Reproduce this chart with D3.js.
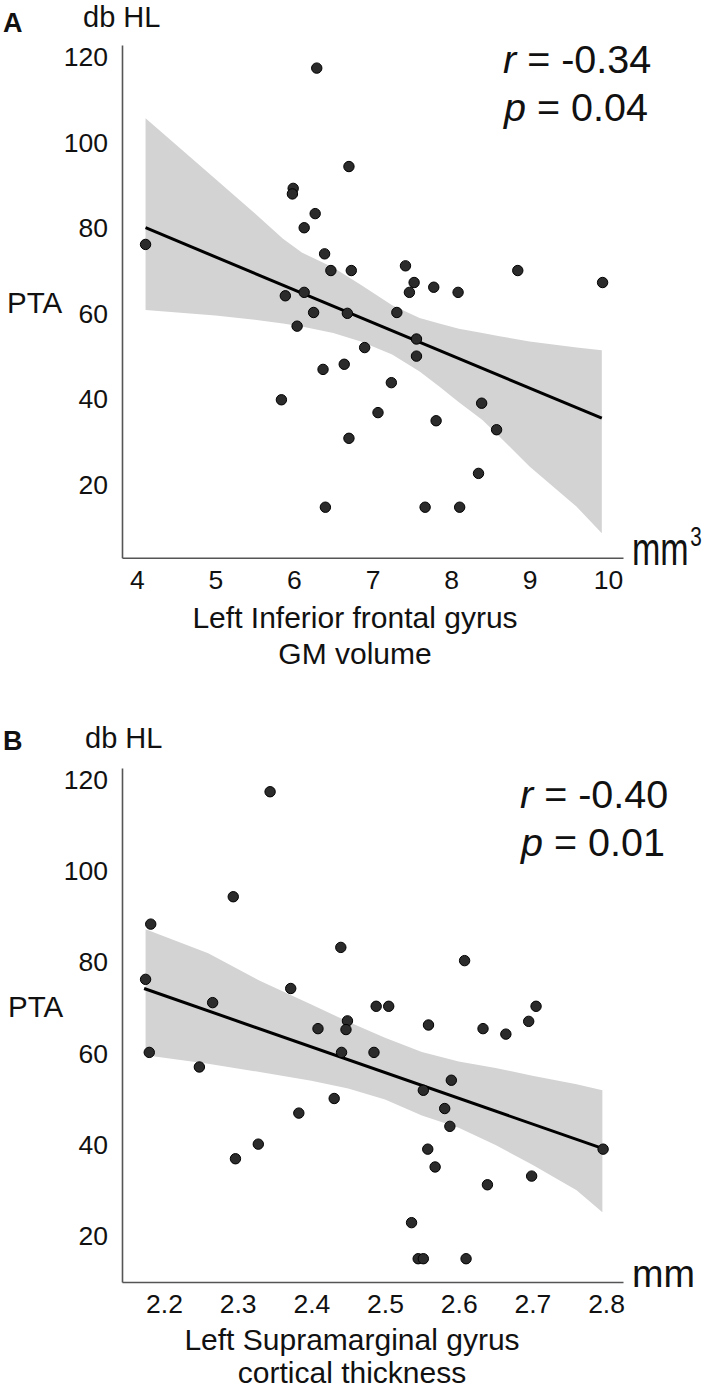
<!DOCTYPE html>
<html>
<head>
<meta charset="utf-8">
<script src="https://cdn.jsdelivr.net/npm/d3@7"></script>
<style>
  body { margin: 0; background: #fff; }
  svg text { font-family: "Liberation Sans", Arial, sans-serif; fill: #111; }
</style>
</head>
<body>
<svg id="chart" width="722" height="1390"></svg>
<script>
// panel A: left inferior frontal gyrus GM volume vs PTA
const gmVolume = [6.29, 6.70, 5.99, 5.98, 6.27, 6.13, 4.11, 6.39, 6.47, 6.73, 5.89, 6.13, 6.25, 6.68, 6.04,
  7.42, 7.53, 7.47, 7.78, 8.09, 8.85, 9.93, 7.31, 7.56, 6.90, 7.56, 6.37, 6.64, 7.24, 5.84, 7.07, 6.70,
  6.40, 8.39, 7.81, 8.58, 8.35, 7.67, 8.11];
const ptaA = [117.4, 94.4, 89.3, 88.0, 83.4, 80.1, 76.2, 74.0, 70.1, 70.1, 64.2, 65.0, 60.3, 60.1, 57.1,
  71.2, 67.3, 65.0, 66.2, 65.0, 70.1, 67.3, 60.3, 54.1, 52.1, 50.1, 47.0, 48.2, 43.9, 39.9, 36.9, 30.9,
  14.8, 39.1, 35.0, 32.9, 22.7, 14.8, 14.8];
const fitAx = [4.11, 9.92];
const fitAy = [80.1, 35.6];
const bandAx = [4.11, 5.0, 5.5, 5.86, 6.1, 6.5, 6.85, 7.25, 7.6, 7.85, 8.1, 8.4, 8.6, 9.0, 9.6, 9.92];
const bandAhi = [105.7, 91.5, 83.5, 77.5, 74.3, 70.8, 66.8, 62.0, 59.0, 57.7, 56.5, 55.5, 54.8, 53.5, 52.1, 51.5];
const bandAlo = [60.9, 59.6, 58.6, 57.7, 57.0, 55.5, 53.5, 50.5, 46.5, 43.0, 39.3, 35.2, 31.6, 24.3, 14.9, 8.7];
const ticksAx = [4, 5, 6, 7, 8, 9, 10];

// panel B: left supramarginal gyrus cortical thickness vs PTA
const thickness = [2.344, 2.294, 2.182, 2.440, 2.175, 2.372, 2.266, 2.449, 2.608, 2.488, 2.505, 2.705, 2.695,
  2.409, 2.447, 2.559, 2.633, 2.664, 2.180, 2.441, 2.485, 2.248, 2.590, 2.552, 2.431, 2.581, 2.383, 2.588,
  2.328, 2.297, 2.558, 2.796, 2.568, 2.699, 2.639, 2.536, 2.545, 2.552, 2.610];
const ptaB = [117.4, 94.4, 88.4, 83.3, 76.3, 74.3, 71.2, 67.2, 80.4, 70.4, 70.4, 70.4, 67.1,
  65.5, 65.3, 66.3, 65.5, 64.3, 60.3, 60.3, 60.3, 57.1, 54.2, 52.0, 50.2, 48.0, 47.0, 44.1,
  40.2, 37.0, 39.1, 39.1, 35.2, 33.2, 31.3, 23.0, 15.1, 15.1, 15.1];
const fitBx = [2.173, 2.796];
const fitBy = [74.3, 39.2];
const bandBx = [2.175, 2.26, 2.33, 2.40, 2.45, 2.50, 2.55, 2.60, 2.65, 2.70, 2.76, 2.795];
const bandBhi = [87.3, 82.0, 76.0, 70.8, 67.0, 63.5, 60.4, 58.3, 56.9, 55.2, 53.3, 52.0];
const bandBlo = [59.7, 57.8, 56.0, 54.1, 52.4, 50.0, 46.5, 43.8, 40.0, 35.7, 30.1, 25.3];
const ticksBx = [2.2, 2.3, 2.4, 2.5, 2.6, 2.7, 2.8];

const ticksY = [20, 40, 60, 80, 100, 120];

const svg = d3.select("#chart");

const panels = [
  {
    letter: "A", xs: gmVolume, ys: ptaA, fitX: fitAx, fitY: fitAy,
    bandX: bandAx, bandHi: bandAhi, bandLo: bandAlo, ticks: ticksAx, fmt: d3.format("d"),
    xDomain: [3.81, 10.19], yDomain: [3, 122.8], top: 45, bottom: 557.7,
    r: "-0.34", p: "0.04", statX: 503, statY: 73,
    unit: "mm", unitSup: "3", unitSize: 46, unitScale: 0.74, unitY: 565,
    title: ["Left Inferior frontal gyrus", "GM volume"], titleY: [628, 664], titleX: 355,
    letterY: 32, dbY: 27, dbX: 83, ptaY: 313, ptaX: 7
  },
  {
    letter: "B", xs: thickness, ys: ptaB, fitX: fitBx, fitY: fitBy,
    bandX: bandBx, bandHi: bandBhi, bandLo: bandBlo, ticks: ticksBx, fmt: d3.format(".1f"),
    xDomain: [2.143, 2.823], yDomain: [10, 122.6], top: 768, bottom: 1282,
    r: "-0.40", p: "0.01", statX: 520, statY: 808,
    unit: "mm", unitSup: null, unitSize: 39, unitScale: 0.97, unitY: 1287,
    title: ["Left Supramarginal gyrus", "cortical thickness"], titleY: [1350, 1383], titleX: 352,
    letterY: 750, dbY: 748, dbX: 85, ptaY: 1017, ptaX: 8
  }
];

const left = 122, right = 623;

panels.forEach(cfg => {
  const x = d3.scaleLinear().domain(cfg.xDomain).range([left, right]);
  const y = d3.scaleLinear().domain(cfg.yDomain).range([cfg.bottom, cfg.top]);
  const g = svg.append("g");

  // confidence band
  const band = cfg.bandX.map((v, i) => ({ x: v, hi: cfg.bandHi[i], lo: cfg.bandLo[i] }));
  g.append("path")
    .datum(band)
    .attr("fill", "#d3d3d3")
    .attr("d", d3.area().x(d => x(d.x)).y0(d => y(d.lo)).y1(d => y(d.hi)));

  // axes, no tick marks
  const yAxis = d3.axisLeft(y).tickValues(ticksY).tickSize(0).tickPadding(14);
  const xAxis = d3.axisBottom(x).tickValues(cfg.ticks).tickFormat(cfg.fmt).tickSize(0).tickPadding(12);

  const ya = g.append("g").attr("transform", `translate(${left},0)`).call(yAxis);
  const xa = g.append("g").attr("transform", `translate(0,${cfg.bottom})`).call(xAxis);
  [ya, xa].forEach(a => {
    a.select(".domain").attr("stroke", "#555").attr("stroke-width", 1.6);
    a.selectAll("text")
      .attr("font-size", 26.5)
      .attr("font-family", "Liberation Sans, Arial, sans-serif")
      .attr("fill", "#111");
  });

  // fit line
  g.append("line")
    .attr("x1", x(cfg.fitX[0])).attr("y1", y(cfg.fitY[0]))
    .attr("x2", x(cfg.fitX[1])).attr("y2", y(cfg.fitY[1]))
    .attr("stroke", "#000")
    .attr("stroke-width", 3);

  // points
  g.selectAll("circle")
    .data(cfg.xs.map((v, i) => [v, cfg.ys[i]]))
    .enter()
    .append("circle")
      .attr("cx", d => x(d[0]))
      .attr("cy", d => y(d[1]))
      .attr("r", 5.2)
      .attr("fill", "#2b2b2b")
      .attr("stroke", "#000")
      .attr("stroke-width", 1);

  // labels
  g.append("text").attr("x", 3).attr("y", cfg.letterY)
    .attr("font-size", 27).attr("font-weight", "bold").text(cfg.letter);
  g.append("text").attr("x", cfg.dbX).attr("y", cfg.dbY)
    .attr("font-size", 29).text("db HL");
  g.append("text").attr("x", cfg.ptaX).attr("y", cfg.ptaY)
    .attr("font-size", 29.5).text("PTA");

  const rt = g.append("text").attr("x", cfg.statX).attr("y", cfg.statY).attr("font-size", 39.5);
  rt.append("tspan").attr("font-style", "italic").text("r");
  rt.append("tspan").text(" = " + cfg.r);
  const pt = g.append("text").attr("x", cfg.statX + 1).attr("y", cfg.statY + 48).attr("font-size", 39.5);
  pt.append("tspan").attr("font-style", "italic").text("p");
  pt.append("tspan").text(" = " + cfg.p);

  // unit label, squeezed like the original
  const ut = g.append("text")
    .attr("transform", `translate(${right + 9},${cfg.unitY}) scale(${cfg.unitScale},1)`)
    .attr("font-size", cfg.unitSize);
  ut.append("tspan").text(cfg.unit);
  if (cfg.unitSup) {
    ut.append("tspan").attr("dx", 2).attr("dy", -19).attr("font-size", 28).text(cfg.unitSup);
  }

  cfg.title.forEach((t, i) => {
    g.append("text")
      .attr("x", cfg.titleX).attr("y", cfg.titleY[i])
      .attr("text-anchor", "middle")
      .attr("font-size", 30)
      .text(t);
  });
});
</script>
</body>
</html>
